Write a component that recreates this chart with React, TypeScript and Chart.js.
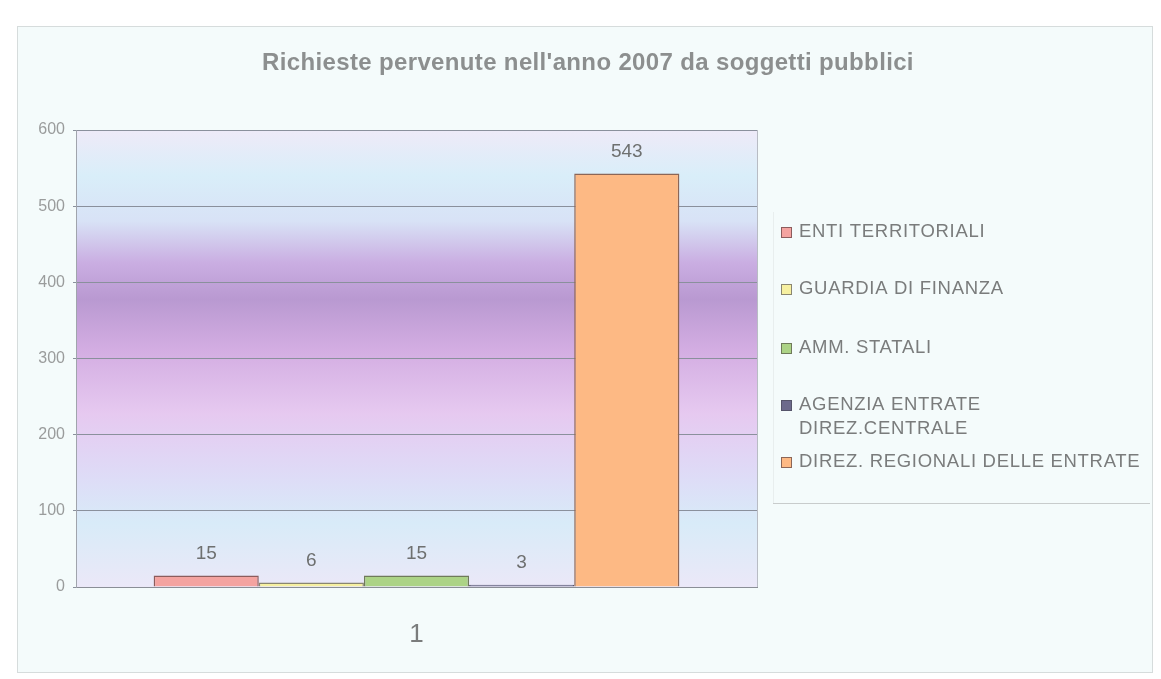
import React, { useEffect, useRef } from "react";
import { Chart, registerables } from "chart.js";

Chart.register(...registerables);

const titleText = "Richieste pervenute nell'anno 2007 da soggetti pubblici";
const categories = ["1"];
const seriesLabels = [
  "ENTI TERRITORIALI",
  "GUARDIA DI FINANZA",
  "AMM. STATALI",
  "AGENZIA ENTRATE\nDIREZ.CENTRALE",
  "DIREZ. REGIONALI DELLE ENTRATE",
];
const seriesValues = [15, 6, 15, 3, 543];
const barColors = ["#f4a3a0", "#f6f0a0", "#acd386", "#6c6a8c", "#fdb984"];
const barBorders = ["#8c5c5c", "#8a8670", "#6f7a5a", "#55546a", "#8c6656"];
const yTicks = [0, 100, 200, 300, 400, 500, 600];

const FONT = "'Liberation Sans', Arial, sans-serif";

const decorPlugin = {
  id: "decor",
  beforeDraw(chart: any) {
    const { ctx, chartArea: a } = chart;
    ctx.save();
    ctx.fillStyle = "#ffffff";
    ctx.fillRect(0, 0, chart.width, chart.height);
    ctx.fillStyle = "#f4fbfb";
    ctx.fillRect(17, 26, 1135, 646);
    ctx.strokeStyle = "#d6dcdc";
    ctx.lineWidth = 1;
    ctx.strokeRect(17.5, 26.5, 1135, 646);
    // plot gradient
    const g = ctx.createLinearGradient(0, a.top, 0, a.bottom);
    g.addColorStop(0, "#eeeaf8");
    g.addColorStop(0.1, "#d9eef9");
    g.addColorStop(0.2, "#d8e2f6");
    g.addColorStop(0.29, "#caaee2");
    g.addColorStop(0.37, "#b999d1");
    g.addColorStop(0.48, "#d3ade2");
    g.addColorStop(0.62, "#e6c9f0");
    g.addColorStop(0.76, "#dedcf7");
    g.addColorStop(0.86, "#d8ebf8");
    g.addColorStop(1, "#ebe8f8");
    ctx.fillStyle = g;
    ctx.fillRect(a.left, a.top, a.right - a.left, a.bottom - a.top);
    ctx.strokeStyle = "#b8bcc4";
    ctx.strokeRect(a.left + 0.5, a.top + 0.5, a.right - a.left, a.bottom - a.top);
    // title
    ctx.fillStyle = "#8c8f8f";
    ctx.font = `bold 24px ${FONT}`;
    (ctx as any).letterSpacing = "0.35px";
    ctx.textAlign = "center";
    ctx.textBaseline = "middle";
    ctx.fillText(titleText, 588, 63);
    ctx.restore();
  },
  afterDatasetsDraw(chart: any) {
    const { ctx } = chart;
    ctx.save();
    ctx.fillStyle = "#6e7070";
    ctx.font = `19px ${FONT}`;
    ctx.textAlign = "center";
    ctx.textBaseline = "middle";
    chart.data.datasets.forEach((ds: any, i: number) => {
      const meta = chart.getDatasetMeta(i);
      meta.data.forEach((el: any, j: number) => {
        ctx.fillText(String(ds.data[j]), el.x, el.y - 22);
      });
    });
    ctx.restore();
  },
  afterDraw(chart: any) {
    const { ctx } = chart;
    ctx.save();
    // legend box
    ctx.strokeStyle = "#e8eeee";
    ctx.lineWidth = 1;
    ctx.beginPath();
    ctx.moveTo(773.5, 212);
    ctx.lineTo(773.5, 503);
    ctx.stroke();
    ctx.strokeStyle = "#c8cccc";
    ctx.beginPath();
    ctx.moveTo(773, 503.5);
    ctx.lineTo(1150, 503.5);
    ctx.stroke();
    const rows = [232, 289, 348, 405, 462];
    ctx.font = `18.5px ${FONT}`;
    (ctx as any).letterSpacing = "0.7px";
    ctx.textBaseline = "middle";
    ctx.textAlign = "left";
    chart.data.datasets.forEach((ds: any, i: number) => {
      const y = rows[i];
      ctx.fillStyle = ds.backgroundColor;
      ctx.fillRect(781, y - 5, 11, 11);
      ctx.strokeStyle = ds.borderColor;
      ctx.strokeRect(781.5, y - 4.5, 10, 10);
      ctx.fillStyle = "#7a7c7c";
      String(ds.label)
        .split("\n")
        .forEach((line: string, k: number) => {
          ctx.fillText(line, 799, y + k * 24);
        });
    });
    ctx.restore();
  },
};

export default function App() {
  const ref = useRef<HTMLCanvasElement>(null);
  useEffect(() => {
    if (!ref.current) return;
    const chart = new Chart(ref.current, {
      type: "bar",
      data: {
        labels: categories,
        datasets: seriesLabels.map((label, i) => ({
          label,
          data: [seriesValues[i]],
          backgroundColor: barColors[i],
          borderColor: barBorders[i],
          borderWidth: 1.5,
          categoryPercentage: 0.772,
          barPercentage: 1,
        })),
      },
      options: {
        animation: false,
        responsive: false,
        maintainAspectRatio: false,
        layout: { padding: { left: 16, right: 404, top: 130, bottom: 32 } },
        plugins: {
          legend: { display: false },
          title: { display: false },
          tooltip: { enabled: false },
        },
        scales: {
          x: {
            grid: { display: false },
            border: { display: true, color: "#8a8e96", width: 1 },
            ticks: {
              color: "#7a7c7c",
              font: { family: FONT, size: 26 },
              padding: 24,
            },
            afterFit: (s: any) => {
              s.height = 60;
            },
          },
          y: {
            min: 0,
            max: 600,
            afterBuildTicks: (s: any) => {
              s.ticks = yTicks.map((v) => ({ value: v }));
            },
            grid: { color: "#8a909c", tickLength: 3 },
            border: { display: true, color: "#a0a4ac" },
            ticks: {
              color: "#9a9c9c",
              font: { family: FONT, size: 16 },
              padding: 8,
            },
            afterFit: (s: any) => {
              s.width = 60;
            },
          },
        },
      },
      plugins: [decorPlugin],
    });
    return () => chart.destroy();
  }, []);
  return (
    <div style={{ position: "fixed", left: 0, top: 0, width: 1161, height: 679 }}>
      <canvas ref={ref} width={1161} height={679} style={{ display: "block" }} />
    </div>
  );
}
